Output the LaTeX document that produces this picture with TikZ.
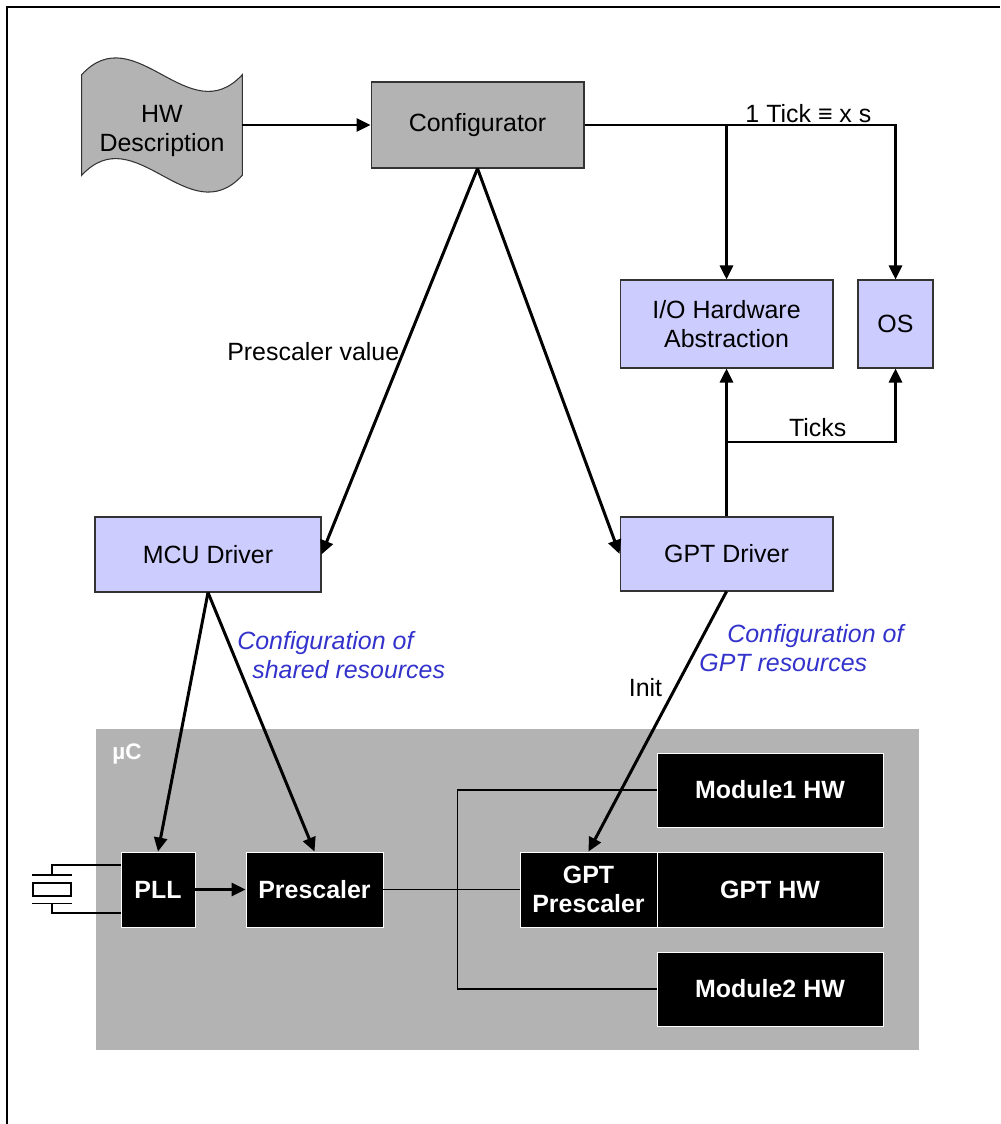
\documentclass[tikz,border=0pt]{standalone}
\usepackage{fontspec}
\setmainfont{Liberation Sans}
\usetikzlibrary{arrows.meta,backgrounds}
\definecolor{boxgray}{RGB}{179,179,179}
\definecolor{lavender}{RGB}{204,204,255}
\definecolor{noteblue}{RGB}{51,51,204}
\definecolor{edgegray}{RGB}{51,51,51}

\tikzset{
  txt/.style={font=\fontsize{14.2pt}{16.5pt}\selectfont},
  toolbox/.style={txt, draw=edgegray, fill=boxgray, line width=0.6pt, inner sep=0pt},
  swbox/.style={txt, draw=edgegray, fill=lavender, line width=0.6pt, inner sep=0pt, align=center},
  hwbox/.style={draw=white, fill=black, text=white, line width=0.5pt, inner sep=0pt, align=center,
    font=\fontsize{14.2pt}{16.5pt}\selectfont\bfseries},
  note/.style={text=noteblue, inner sep=0pt, align=left,
    font=\fontsize{14.2pt}{16.5pt}\selectfont\itshape},
  flow/.style={line width=1.7pt, -{Triangle[length=2.8mm,width=2.6mm]}},
  wire/.style={line width=0.6pt},
}

\begin{document}
\begin{tikzpicture}[x=0.02cm, y=-0.02cm]

    \useasboundingbox (0,0) rectangle (1000,1124);
    \draw[line width=1.1pt] (7,1124) -- (7,7) -- (1000,7);

    % tools
    \node[txt, align=center, inner sep=0pt, minimum width=3.2cm, minimum height=2cm] (hw) at (162,131) {HW\\Description};
    \begin{scope}[on background layer]
      \draw[draw=edgegray, fill=boxgray, line width=0.6pt]
        ([yshift=0.12cm]hw.north west) .. controls +(53.5,-58) and +(-53.5,58) .. ([yshift=0.12cm]hw.north east)
        -- ([yshift=0.12cm]hw.south east) .. controls +(-53.5,58) and +(53.5,-58) .. ([yshift=0.12cm]hw.south west) -- cycle;
    \end{scope}
    \node[toolbox, minimum width=4.26cm, minimum height=1.72cm] (conf) at (477.5,125) {Configurator};

    % software
    \node[swbox, minimum width=4.26cm, minimum height=1.76cm] (io) at (726.5,324) {I/O Hardware\\Abstraction};
    \node[swbox, minimum width=1.5cm, minimum height=1.76cm] (os) at (895.5,324) {OS};
    \node[swbox, minimum width=4.26cm, minimum height=1.48cm] (gptdrv) at (726.5,554) {GPT Driver};
    \node[swbox, minimum width=4.52cm, minimum height=1.5cm] (mcudrv) at (208,554.5) {MCU Driver};

    % micro controller
    \node[fill=boxgray, inner sep=0pt, minimum width=16.46cm, minimum height=6.42cm] (uc) at (507.5,889.5) {};
    \node[text=white, inner sep=0pt, font=\fontsize{12.8pt}{15pt}\selectfont\bfseries] (uclabel) at (127,754) {µC};

    \node[hwbox, minimum width=1.48cm, minimum height=1.5cm] (pll) at (158,889.5) {PLL};
    \node[hwbox, minimum width=2.74cm, minimum height=1.5cm] (presc) at (314.5,889.5) {Prescaler};
    \node[hwbox, minimum width=2.74cm, minimum height=1.5cm] (gptpre) at (588.5,889.5) {GPT\\Prescaler};
    \node[hwbox, minimum width=4.52cm, minimum height=1.5cm] (gpthw) at (770,889.5) {GPT HW};
    \node[hwbox, minimum width=4.52cm, minimum height=1.48cm] (mod1) at (770,790) {Module1 HW};
    \node[hwbox, minimum width=4.52cm, minimum height=1.48cm] (mod2) at (770,989) {Module2 HW};

    % crystal
    \node[draw, wire, fill=white, inner sep=0pt, minimum width=0.76cm, minimum height=0.26cm] (xtal) at (52,889.5) {};
    \draw[wire] ([yshift=0.15cm]xtal.north west) -- ([yshift=0.15cm]xtal.north east);
    \draw[wire] ([yshift=-0.13cm]xtal.south west) -- ([yshift=-0.13cm]xtal.south east);
    \draw[wire] ([yshift=0.49cm]pll.west) -| ([yshift=0.15cm]xtal.north);
    \draw[wire] ([yshift=-0.47cm]pll.west) -| ([yshift=-0.13cm]xtal.south);

    % arrows
    \draw[flow] (hw.east |- conf.west) -- (conf.west);
    \draw[flow] (conf.east) -| (os.north) node[txt, pos=0.36, anchor=south, inner sep=0.5pt](tick){1 Tick ≡ x s};
    \draw[flow] (io.north |- conf.east) -- (io.north);

    \draw[flow] (conf.south) -- (mcudrv.east) node[txt, pos=0.474, anchor=east, xshift=0.06cm](pval){Prescaler value};
    \draw[flow] (conf.south) -- (gptdrv.west);

    \coordinate (tk) at (726.5,442);
    \draw[flow] (gptdrv.north) -- (io.south);
    \draw[flow] (tk) -| (os.south) node[txt, pos=0.27, anchor=south, inner sep=2pt](ticks){Ticks};

    \draw[flow] (mcudrv.south) -- (pll.north);
    \draw[flow] (mcudrv.south) -- (presc.north);
    \draw[flow] (pll.east) -- (presc.west);
    \draw[flow] (gptdrv.south) -- (gptpre.north) node[txt, pos=0.37, anchor=east, xshift=-0.12cm](init){Init};

    \draw[wire] (presc.east) -- (gptpre.west);
    \draw[wire] (mod1.west) -- ++(-199,0) |- (mod2.west);

    % notes
    \node[note, anchor=west] (shared) at (237,655.5) {Configuration of\\\hspace{0.3cm}shared resources};
    \node[note, anchor=west] (gptres) at (699,648.5) {\hspace{0.56cm}Configuration of\\GPT resources};

\end{tikzpicture}
\end{document}
